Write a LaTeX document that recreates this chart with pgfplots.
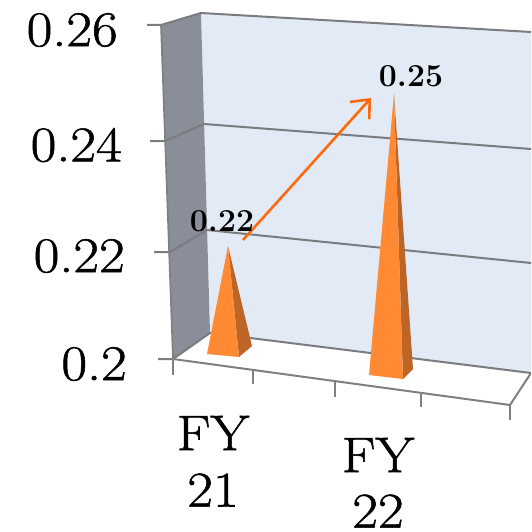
\documentclass[border=0pt]{standalone}
\usepackage{fontspec}
\usepackage{pgfplots}
\pgfplotsset{compat=1.18}
\usetikzlibrary{arrows.meta}
\definecolor{wallL}{HTML}{8A8E98}
\definecolor{wallB}{HTML}{E2EAF6}
\definecolor{gridc}{HTML}{7A7C80}
\definecolor{tickc}{HTML}{808080}
\definecolor{pyrL}{HTML}{FF8A33}
\definecolor{pyrD}{HTML}{BC6526}
\definecolor{arr}{HTML}{FF6A0C}
\newfontfamily\sch{Latin Modern Roman}[FakeBold=1.1,FakeStretch=1.12]
\newcommand{\lbl}{\fontsize{50}{54}\sch\selectfont}
\newcommand{\dl}{\fontsize{32}{34}\selectfont\bfseries}
\begin{document}
\begin{tikzpicture}
\begin{axis}[hide axis, scale only axis, width=531pt, height=532pt,
  xmin=0, xmax=531, ymin=0, ymax=532, y dir=reverse, clip mode=individual,
  every axis plot/.append style={line join=round}]
% canvas
\addplot[fill=white, draw=none] coordinates {(0,0)(531,0)(531,532)(0,532)} -- cycle;
% walls
\addplot[fill=wallB, draw=none] coordinates {(201,13)(531,32)(531,373)(210,333)} -- cycle;
\addplot[fill=wallL, draw=none] coordinates {(161,25)(201,13)(210,333)(173,359)} -- cycle;
% gridlines on the back wall
\addplot[gridc, line width=2pt] coordinates {(147,25)(161,25)(201,13)(531,32)};
\addplot[gridc, line width=2pt] coordinates {(150,141)(165,141)(204,124)(531,149)};
\addplot[gridc, line width=2pt] coordinates {(154,252)(170,252)(207,230)(531,263)};
\addplot[gridc, line width=2pt] coordinates {(158,359)(173,359)(210,333)(531,373)};
% left wall front edge and floor
\addplot[tickc, line width=1.7pt] coordinates {(161,25)(173,359)};
\addplot[tickc, line width=2pt] coordinates {(173,359)(510,405)(531,373)};
\addplot[tickc, line width=2pt] coordinates {(173,359)(173,375)};
\addplot[tickc, line width=2pt] coordinates {(253,370)(253,384)};
\addplot[tickc, line width=2pt] coordinates {(335,382)(335,397)};
\addplot[tickc, line width=2pt] coordinates {(421,393)(421,407)};
\addplot[tickc, line width=2pt] coordinates {(510,405)(510,420)};
% pyramid FY21 = 0.22
\addplot[fill=pyrD, draw=none] coordinates {(228,246)(239,357)(252,346)} -- cycle;
\addplot[fill=pyrL, draw=none] coordinates {(228,246)(207,354)(239,357)} -- cycle;
% pyramid FY22 = 0.25
\addplot[fill=pyrD, draw=none] coordinates {(394,94)(403,379)(413,369)} -- cycle;
\addplot[fill=pyrL, draw=none] coordinates {(394,94)(369,375)(403,379)} -- cycle;
% trend arrow
\addplot[arr, line width=2.6pt, -{Straight Barb[length=15pt,width=26pt,line width=2.6pt]}] coordinates {(243,240)(371,98)};
% tick labels
\node[anchor=east, inner sep=0pt] at (axis cs:118,30) {\lbl 0.26};
\node[anchor=east, inner sep=0pt] at (axis cs:122,145) {\lbl 0.24};
\node[anchor=east, inner sep=0pt] at (axis cs:125,256) {\lbl 0.22};
\node[anchor=east, inner sep=0pt] at (axis cs:127,364) {\lbl 0.2};
\node[inner sep=0pt] at (axis cs:213,433) {\lbl FY};
\node[inner sep=0pt] at (axis cs:213,490) {\lbl 21};
\node[inner sep=0pt] at (axis cs:378,455) {\lbl FY};
\node[inner sep=0pt] at (axis cs:378,511) {\lbl 22};
% data labels
\node[inner sep=0pt] at (axis cs:222,221) {\dl 0.22};
\node[inner sep=0pt] at (axis cs:411,76) {\dl 0.25};
\end{axis}
\end{tikzpicture}
\end{document}
